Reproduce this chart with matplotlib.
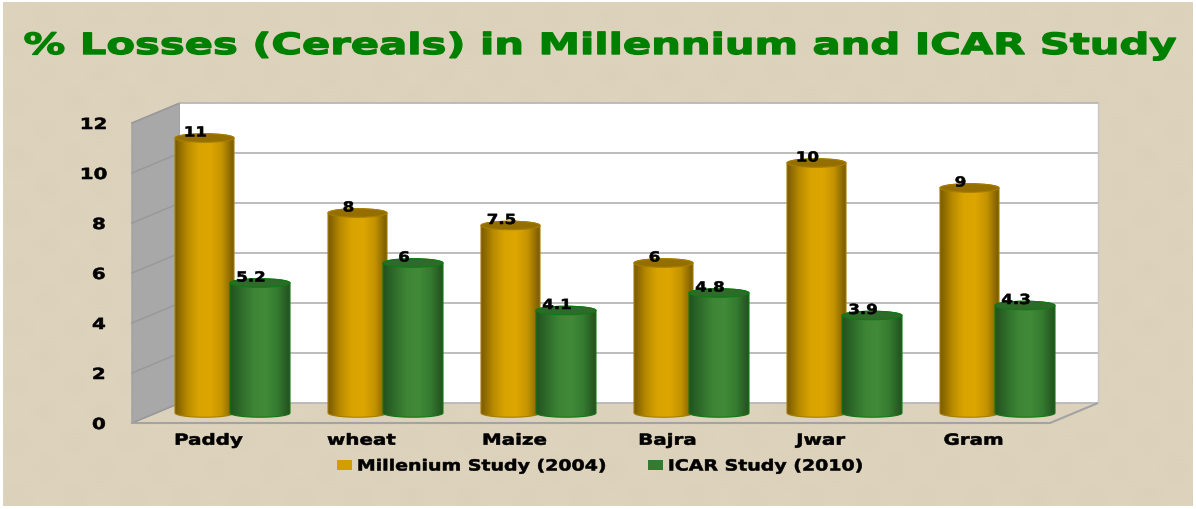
import numpy as np
import matplotlib
matplotlib.use('Agg')
import matplotlib.pyplot as plt
import matplotlib.patheffects as pe
from matplotlib.colors import LinearSegmentedColormap
from matplotlib.patches import Patch, Polygon, PathPatch, Ellipse
from matplotlib.path import Path
from matplotlib.transforms import Affine2D

title = '% Losses (Cereals) in Millennium and ICAR Study'
crops = ['Paddy', 'wheat', 'Maize', 'Bajra', 'Jwar', 'Gram']
millenium = [11, 8, 7.5, 6, 10, 9]
icar = [5.2, 6, 4.1, 4.8, 3.9, 4.3]
millenium_labels = ['11', '8', '7.5', '6', '10', '9']
icar_labels = ['5.2', '6', '4.1', '4.8', '3.9', '4.3']
yticks = [0, 2, 4, 6, 8, 10, 12]
series_names = ['Millenium Study (2004)', 'ICAR Study (2010)']

W, H = 1196, 510
plt.rcParams['font.family'] = 'DejaVu Sans'
plt.rcParams['font.weight'] = 'bold'


class Widen(pe.AbstractPathEffect):
    # the reference slide is stretched sideways, so the text is too
    def __init__(self, sx, stroke=0.4, left=False):
        super().__init__()
        self.sx = sx
        self.stroke = stroke
        self.left = left

    def draw_path(self, renderer, gc, tpath, affine, rgbFace=None):
        ext = tpath.get_extents(affine)
        cx = ext.x0 if self.left else (ext.x0 + ext.x1) / 2
        wide = affine + Affine2D().translate(-cx, 0).scale(self.sx, 1).translate(cx, 0)
        gc0 = renderer.new_gc()
        gc0.copy_properties(gc)
        gc0.set_linewidth(self.stroke)
        gc0.set_foreground(rgbFace)
        renderer.draw_path(gc0, tpath, wide, rgbFace)
        gc0.restore()


fig = plt.figure(figsize=(W / 100, H / 100), dpi=100, facecolor='white')

# canvas texture behind everything
bg = fig.add_axes([3 / W, 3 / H, 1190 / W, 504 / H], zorder=0)
yy, xx = np.mgrid[0:504, 0:1190]
weave = 3.5 * np.sin(xx * 2.1) * np.sin(yy * 1.7) + 1.0 * np.sin(xx / 9.0) * np.sin(yy / 9.0)
tex = np.dstack([221 + weave, 210 + weave, 188 + weave]) / 255
bg.imshow(np.clip(tex, 0, 1), aspect='auto')
bg.axis('off')

# front plane of the 3d box starts at x=132, y=424 px; axes run a bit past
# the 6 categories so the last cylinder is not cut
ax = fig.add_axes([132 / W, (H - 424) / H, 6.5 * 153 / W, 300 / H], zorder=1)
ax.patch.set_visible(False)
for s in ax.spines.values():
    s.set_visible(False)

depth_x = 48 / 153
depth_y = 20 / 25
grid_c = '#B8B8B8'
n = len(crops)

ax.add_patch(Polygon([(0, 0), (0, 12), (depth_x, 12 + depth_y), (depth_x, depth_y)],
                     facecolor='#A8A8A8', edgecolor='#A0A0A0', lw=1, clip_on=False, zorder=1))
ax.add_patch(Polygon([(depth_x, depth_y), (depth_x, 12 + depth_y), (n + depth_x, 12 + depth_y), (n + depth_x, depth_y)],
                     facecolor='white', edgecolor='none', clip_on=False, zorder=1))
for k in yticks:
    ax.plot([0, depth_x], [k, k + depth_y], color='#999999', lw=1.1, clip_on=False, zorder=2)
    ax.plot([depth_x, n + depth_x], [k + depth_y, k + depth_y], color=grid_c, lw=1.3, clip_on=False, zorder=2)
ax.plot([0, n, n + depth_x], [0, 0, depth_y], color='#A3A3A3', lw=1.5, clip_on=False, zorder=2)
ax.plot([n + depth_x, n + depth_x], [depth_y, 12 + depth_y], color='#C8C8C8', lw=1, clip_on=False, zorder=2)

gold_cmap = LinearSegmentedColormap.from_list('gold', ['#7A5C00', '#B88A00', '#D9A400', '#DDA600', '#C49300', '#7A5C00'])
green_cmap = LinearSegmentedColormap.from_list('green', ['#24521F', '#2F6E2B', '#3E8636', '#418A38', '#347A30', '#24521F'])
ramp = np.linspace(0, 1, 64).reshape(1, -1)

gold_w = 59 / 153
green_w = 60 / 153
base = depth_y / 2
ell = 0.17


def cylinder(x0, w, value, cmap, top_c, edge_c, z):
    x1 = x0 + w
    top = base + value
    t = np.linspace(np.pi, 2 * np.pi, 40)
    cx = (x0 + x1) / 2
    low = np.column_stack([cx + w / 2 * np.cos(t), base + ell * np.sin(t)])
    high = np.column_stack([cx + w / 2 * np.cos(t[::-1]), top + ell * np.sin(t[::-1] + np.pi)])
    pts = np.vstack([low, high, low[:1]])
    outline = PathPatch(Path(pts), facecolor='none', edgecolor=edge_c, lw=0.8, clip_on=False, zorder=z + 0.1)
    ax.add_patch(outline)
    im = ax.imshow(ramp, cmap=cmap, aspect='auto', extent=(x0, x1, base - ell, top + ell), zorder=z)
    im.set_clip_path(outline)
    ax.add_patch(Ellipse((cx, top), w, 2 * ell, facecolor=top_c, edgecolor=edge_c, lw=0.8, clip_on=False, zorder=z + 0.2))


label_shift = -9 / 153
for i in range(n):
    center = i + 0.5 + depth_x / 2
    gold_x = center - gold_w + 1.5 / 153
    green_x = center - 2.5 / 153
    cylinder(gold_x, gold_w, millenium[i], gold_cmap, '#946F00', '#A67D00', 3 + i * 0.01)
    cylinder(green_x, green_w, icar[i], green_cmap, '#2E6A29', '#0E7A12', 4 + i * 0.01)
    ax.text(gold_x + gold_w / 2 + label_shift, base + millenium[i] - 0.06, millenium_labels[i], ha='center', va='bottom',
            fontsize=10, color='black', zorder=6, clip_on=False, path_effects=[Widen(1.2)])
    ax.text(green_x + green_w / 2 + label_shift, base + icar[i] - 0.06, icar_labels[i], ha='center', va='bottom',
            fontsize=10, color='black', zorder=6, clip_on=False, path_effects=[Widen(1.2)])

ax.set_xlim(0, 6.5)
ax.set_ylim(0, 12)
ax.set_yticks(yticks)
ax.set_yticklabels([str(k) for k in yticks], fontsize=11)
ax.set_xticks(np.arange(n) + 0.5)
ax.set_xticklabels(crops, fontsize=11)
ax.tick_params(axis='y', length=0, pad=20)
ax.tick_params(axis='x', length=0, pad=7)
for lab in ax.get_xticklabels() + ax.get_yticklabels():
    lab.set_path_effects([Widen(1.3)])

handles = [Patch(facecolor='#D19E00', edgecolor='none'), Patch(facecolor='#347A30', edgecolor='none')]
leg = fig.legend(handles, series_names, loc='center', bbox_to_anchor=(581 / W, (H - 467) / H), ncol=2, frameon=False,
                 fontsize=11, handlelength=1.0, handleheight=0.6, handletextpad=0.33, columnspacing=5.9)
for t in leg.get_texts():
    t.set_path_effects([Widen(1.24, left=True)])

fig.text(600 / W, (H - 47) / H, title, ha='center', va='center', fontsize=21, color='#008000', zorder=5,
         path_effects=[Widen(1.43, stroke=1.0)])

fig.savefig('out.png', dpi=100, facecolor='white')
